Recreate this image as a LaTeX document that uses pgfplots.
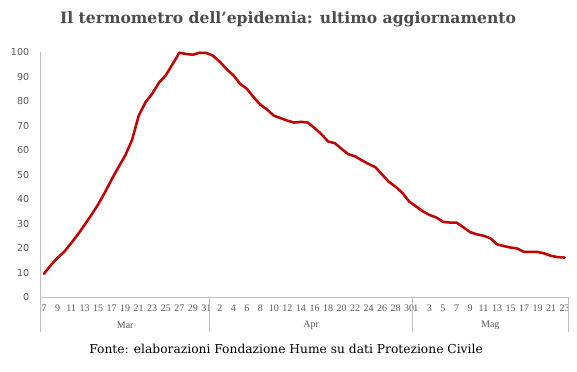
\documentclass[border=0pt]{standalone}
\usepackage{fontspec}
\usepackage{pgfplots}
\pgfplotsset{compat=1.18}
\usepackage{pgfplotstable}
\setmainfont{DejaVu Serif}
\newfontfamily\sansf{DejaVu Sans}
\newfontfamily\tickf{Liberation Serif}
\definecolor{linered}{HTML}{C00000}
\definecolor{axgray}{HTML}{BFBFBF}
\definecolor{txtgray}{HTML}{595959}
\pgfplotstableread{
i v
0 9.5
1 13
2 16
3 18.5
4 22
5 25.5
6 29.5
7 33.5
8 37.8
9 42.7
10 48
11 53
12 57.7
13 64
14 74
15 79.5
16 83
17 87.5
18 90.5
19 95
20 99.7
21 99.2
22 98.9
23 99.7
24 99.6
25 98.5
26 96
27 93
28 90.5
29 87
30 85
31 81.5
32 78.5
33 76.5
34 74
35 73
36 72
37 71.2
38 71.5
39 71.2
40 69
41 66.5
42 63.5
43 62.8
44 60.5
45 58.3
46 57.4
47 55.8
48 54.3
49 53
50 50
51 47
52 45
53 42.5
54 39
55 37
56 35
57 33.5
58 32.5
59 30.7
60 30.4
61 30.4
62 28.5
63 26.5
64 25.6
65 25
66 24
67 21.5
68 20.8
69 20.2
70 19.8
71 18.4
72 18.4
73 18.4
74 17.8
75 16.8
76 16.3
77 16.1
}\datatable
\begin{document}
\begin{tikzpicture}
\path[use as bounding box] (-30.5pt,-55.5pt) rectangle (402.2pt,222.75pt);
\begin{axis}[
  at={(0,0)}, anchor=south west,
  scale only axis,
  width=395.5pt, height=183.75pt,
  xmin=-0.5, xmax=77.5, ymin=0, ymax=100,
  axis lines=left,
  axis line style={-, draw=axgray, line width=0.75pt},
  major tick length=0pt,
  ytick={0,10,...,100},
  /pgf/number format/assume math mode=true,
  yticklabel style={font=\sansf\fontsize{7.2}{8}\selectfont, text=txtgray, anchor=east, xshift=-5pt},
  xtick={0,2,...,54,55,57,...,77},
  xticklabels={7,9,11,13,15,17,19,21,23,25,27,29,31,2,4,6,8,10,12,14,16,18,20,22,24,26,28,30,1,3,5,7,9,11,13,15,17,19,21,23},
  xticklabel style={font=\tickf\fontsize{7.5}{8}\selectfont, text=txtgray, anchor=north, yshift=-2.5pt},
  clip=false,
]
\addplot[linered, line width=1.9pt, line join=round, line cap=round] table[x=i, y=v] {\datatable};
\draw[axgray, line width=0.75pt] (axis cs:-0.5,0) -- ++(0pt,-26pt);
\draw[axgray, line width=0.75pt] (axis cs:24.5,0) -- ++(0pt,-26pt);
\draw[axgray, line width=0.75pt] (axis cs:54.5,0) -- ++(0pt,-26pt);
\draw[axgray, line width=0.75pt] (axis cs:77.5,0) -- ++(0pt,-26pt);
\node[font=\tickf\fontsize{7.5}{8}\selectfont, text=txtgray] at ([yshift=-21.5pt]axis cs:12,0) {Mar};
\node[font=\tickf\fontsize{7.5}{8}\selectfont, text=txtgray] at ([yshift=-21.5pt]axis cs:39.5,0) {Apr};
\node[font=\tickf\fontsize{7.5}{8}\selectfont, text=txtgray] at ([yshift=-21.5pt]axis cs:66,0) {Mag};
\end{axis}
\node[font=\bfseries\fontsize{11.7}{13}\selectfont, text=txtgray!85!black] at (185.5pt,208pt) {Il termometro dell’epidemia: ultimo aggiornamento};
\node[font=\fontsize{9.2}{10}\selectfont, text=black] at (184pt,-39pt) {Fonte: elaborazioni Fondazione Hume su dati Protezione Civile};
\end{tikzpicture}
\end{document}
